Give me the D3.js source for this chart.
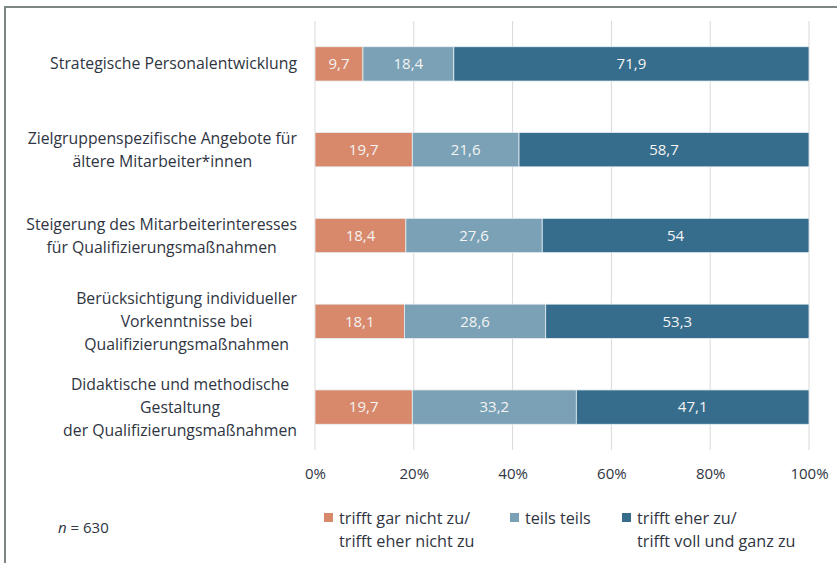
<!DOCTYPE html>
<html>
<head>
<meta charset="utf-8">
<script src="https://cdn.jsdelivr.net/npm/d3@7"></script>
<style>
  body { margin: 0; background: #fff; }
  svg { display: block; font-family: "Open Sans", sans-serif; }
</style>
</head>
<body>
<svg id="chart" width="837" height="563"></svg>
<script>
// Kategorien (Zeilen), jeweils mehrzeilig wie im Original
const categories = [
  ["Strategische Personalentwicklung"],
  ["Zielgruppenspezifische Angebote für", "ältere Mitarbeiter*innen"],
  ["Steigerung des Mitarbeiterinteresses", "für Qualifizierungsmaßnahmen"],
  ["Berücksichtigung individueller", "Vorkenntnisse bei", "Qualifizierungsmaßnahmen"],
  ["Didaktische und methodische", "Gestaltung", "der Qualifizierungsmaßnahmen"]
];
const seriesNames = [
  ["trifft gar nicht zu/", "trifft eher nicht zu"],
  ["teils teils"],
  ["trifft eher zu/", "trifft voll und ganz zu"]
];
const nichtZu = [9.7, 19.7, 18.4, 18.1, 19.7];
const teils = [18.4, 21.6, 27.6, 28.6, 33.2];
const eherZu = [71.9, 58.7, 54, 53.3, 47.1];
const xTicks = [0, 20, 40, 60, 80, 100];
const colors = ["#d8896b", "#7aa1b5", "#366d8c"];

const svg = d3.select("#chart");
const textColor = "#2f3542";

// Rahmen
svg.append("rect")
  .attr("x", 5).attr("y", 7)
  .attr("width", 840).attr("height", 570)
  .attr("fill", "none")
  .attr("stroke", "#7c8782")
  .attr("stroke-width", 2);

const x = d3.scaleLinear().domain([0, 100]).range([315, 809]);
const y = d3.scaleBand().domain(d3.range(categories.length)).range([21, 450]).paddingInner(0.6).paddingOuter(0.3);

// Gitterlinien
svg.append("g")
  .selectAll("line")
  .data(xTicks)
  .join("line")
  .attr("x1", d => x(d)).attr("x2", d => x(d))
  .attr("y1", 21).attr("y2", 450)
  .attr("stroke", "#d9d9d9")
  .attr("stroke-width", 1);

// Achsenbeschriftung
const xAxis = d3.axisBottom(x).tickValues(xTicks).tickFormat(d => d + "%").tickSize(0).tickPadding(0);
const ax = svg.append("g").attr("transform", "translate(0,468)").call(xAxis);
ax.select(".domain").remove();
ax.selectAll("text").attr("font-size", 15).attr("fill", textColor).attr("font-family", "Open Sans");

// gestapelte Daten
const rows = categories.map((c, i) => [nichtZu[i], teils[i], eherZu[i]]);
const stack = d3.stack().keys([0, 1, 2]);
const layers = stack(rows);

const g = svg.append("g");
layers.forEach((layer, k) => {
  const sel = g.append("g").selectAll("g").data(layer).join("g");
  sel.append("rect")
    .attr("x", d => x(d[0]))
    .attr("y", (d, i) => y(i))
    .attr("width", d => x(d[1]) - x(d[0]))
    .attr("height", y.bandwidth())
    .attr("fill", colors[k])
    .attr("stroke", "#e8eef2")
    .attr("stroke-width", 0.8);
  sel.append("text")
    .attr("x", d => (x(d[0]) + x(d[1])) / 2)
    .attr("y", (d, i) => y(i) + y.bandwidth() / 2)
    .attr("dy", "0.35em")
    .attr("text-anchor", "middle")
    .attr("font-size", 15)
    .attr("fill", "#f4f4f4")
    .text(d => String(d[1] - d[0] === 54 ? 54 : d3.format(".1f")(d[1] - d[0])).replace(".", ","));
});

// Kategorienbeschriftung (zentriert, Block rechtsbündig)
const labelRight = 297;
const lineH = 23;
categories.forEach((lines, i) => {
  const t = svg.append("text")
    .attr("font-size", 15.8)
    .attr("fill", textColor);
  const cy = y(i) + y.bandwidth() / 2;
  lines.forEach((l, j) => {
    t.append("tspan")
      .attr("y", cy + (j - (lines.length - 1) / 2) * lineH)
      .attr("dy", "0.35em")
      .text(l);
  });
  // Breite messen, Zeilen zentrieren
  const spans = t.selectAll("tspan").nodes();
  const maxW = d3.max(spans, s => s.getComputedTextLength());
  const cx = labelRight - maxW / 2;
  t.selectAll("tspan").attr("x", cx).attr("text-anchor", "middle");
});

// Legende
const legX = [324, 510, 622];
seriesNames.forEach((lines, k) => {
  svg.append("rect")
    .attr("x", legX[k]).attr("y", 513)
    .attr("width", 9).attr("height", 9)
    .attr("fill", colors[k]);
  const t = svg.append("text").attr("font-size", 16.2).attr("fill", textColor);
  lines.forEach((l, j) => {
    t.append("tspan").attr("x", legX[k] + 15).attr("y", 518 + j * 23).attr("dy", "0.35em").text(l);
  });
});

// Stichprobengröße
const n = svg.append("text").attr("x", 58).attr("y", 528).attr("dy", "0.35em").attr("font-size", 15).attr("fill", textColor);
n.append("tspan").attr("font-style", "italic").text("n");
n.append("tspan").text(" = 630");
</script>
</body>
</html>
